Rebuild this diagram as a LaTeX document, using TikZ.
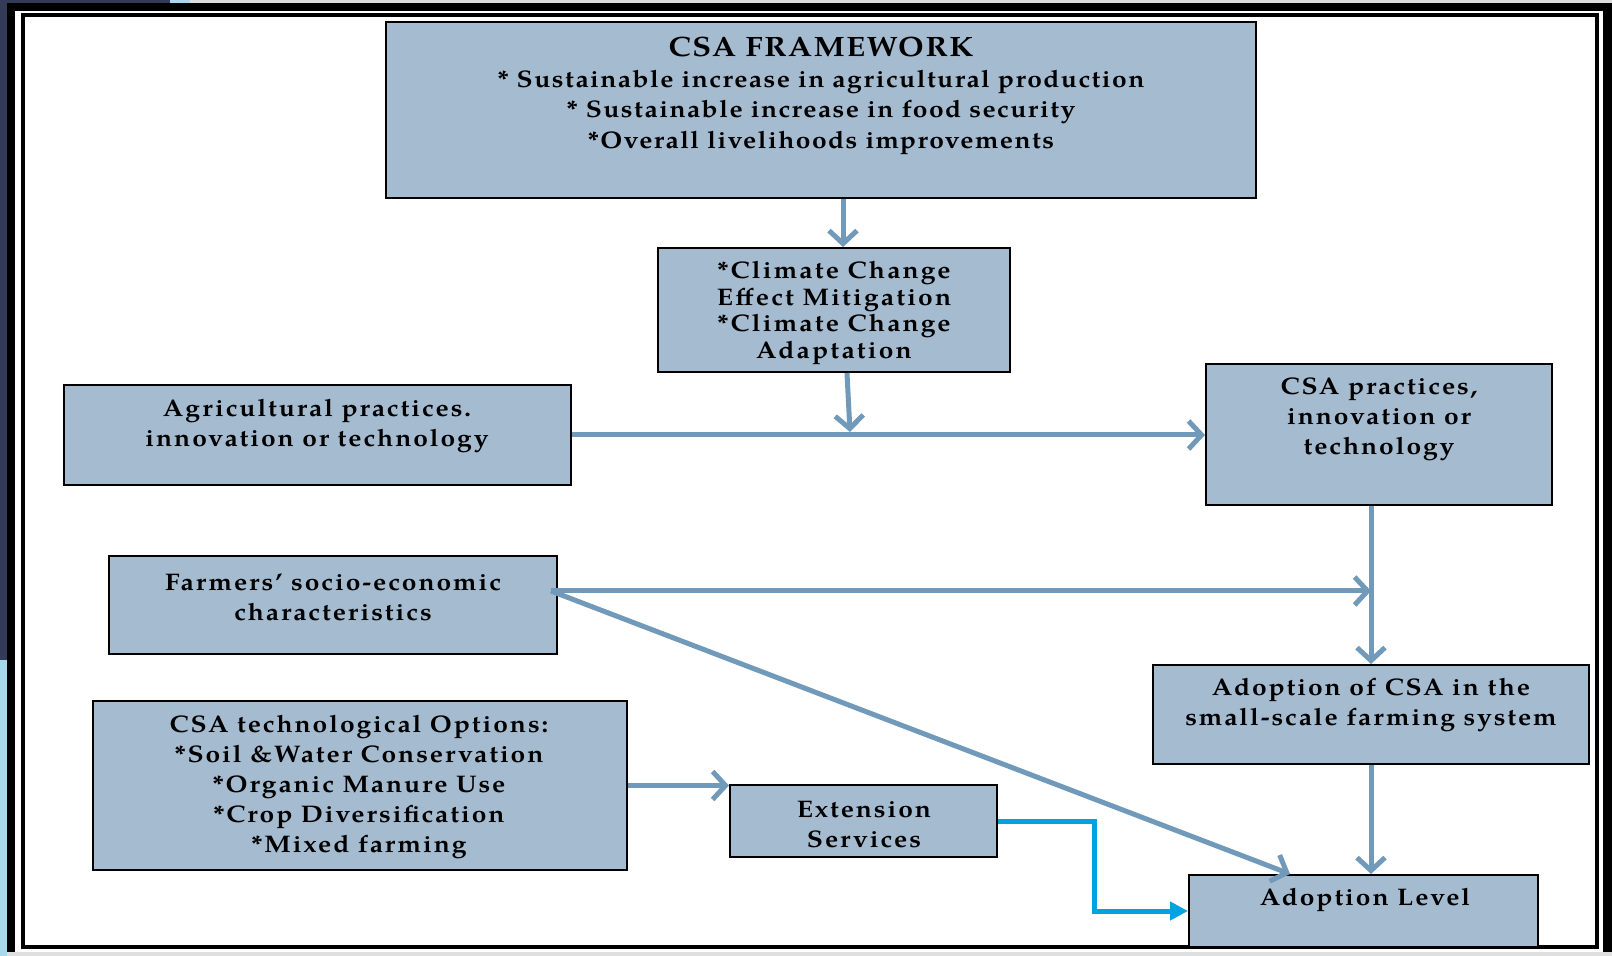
\documentclass[tikz,border=0pt]{standalone}
\usepackage{fontspec}
\setmainfont{TeX Gyre Pagella}
\usetikzlibrary{arrows.meta}

\definecolor{boxfill}{HTML}{A5BBD0}
\definecolor{flowblue}{HTML}{7199BA}
\definecolor{brightblue}{HTML}{00A3E0}
\definecolor{edgenavy}{HTML}{343B56}
\definecolor{edgesky}{HTML}{A8D8EE}

\tikzset{
  box/.style={rectangle, draw=black, line width=1pt, fill=boxfill, inner sep=0pt},
  txt/.style={align=center, inner sep=0pt,
    font=\bfseries\addfontfeatures{LetterSpace=8,FakeStretch=1.1}\fontsize{12}{15}\selectfont},
  toptxt/.style={align=center, inner sep=0pt,
    font=\bfseries\addfontfeatures{LetterSpace=6,FakeStretch=1.1}\fontsize{12}{15.25}\selectfont},
  flow/.style={draw=flowblue, line width=2.5pt, -{Straight Barb[length=6.5pt,width=14pt]}},
  elbow/.style={draw=brightblue, line width=2.5pt, -{Triangle[length=9pt,width=9pt]}},
}

\begin{document}
\begin{tikzpicture}[x=0.5pt,y=-0.5pt]
  \useasboundingbox (0,0) rectangle (1612,956);
  % page edge and frame
  \fill[gray!25] (0,0) rectangle (1612,956);
  \fill[edgenavy] (0,0) rectangle (7,956);
  \fill[edgesky] (0,660) rectangle (7,956);
  \fill[edgenavy] (0,0) rectangle (170,3);
  \fill[edgesky] (170,0) rectangle (190,3);
  \fill[black] (7,3) rectangle (1612,952);
  \fill[white] (15,11) rectangle (1603,952);
  \draw[line width=2pt] (23,15.5) rectangle (1597,947);

  % boxes
  \node[box, minimum width=435pt, minimum height=88pt] (frame) at (821,110.5) {};
  \node[box, minimum width=175.75pt, minimum height=62pt] (clim) at (834,310) {};
  \node[box, minimum width=253.5pt, minimum height=49.75pt] (agri) at (317,435) {};
  \node[box, minimum width=173pt, minimum height=70.5pt] (prac) at (1379,434.5) {};
  \node[box, minimum width=224pt, minimum height=49pt] (farm) at (333,605) {};
  \node[box, minimum width=218pt, minimum height=49.5pt] (adopt) at (1371,714.5) {};
  \node[box, minimum width=267.25pt, minimum height=84.5pt] (tech) at (359.75,785.5) {};
  \node[box, minimum width=133.5pt, minimum height=36pt] (ext) at (863.5,821) {};
  \node[box, minimum width=174.5pt, minimum height=36pt] (level) at (1363.5,911) {};

  % texts
  \node[toptxt] (frametxt) at (821,96) {{\fontsize{14}{15.25}\selectfont CSA FRAMEWORK}\\
    * Sustainable increase in agricultural production\\
    * Sustainable increase in food security\\
    *Overall livelihoods improvements};
  \node[txt, font=\bfseries\addfontfeatures{LetterSpace=9,FakeStretch=1.1}\fontsize{12}{13.2}\selectfont] (climtxt) at (834,313)
    {*Climate Change\\Effect Mitigation\\*Climate Change\\Adaptation};
  \node[txt] (agritxt) at (317,426) {Agricultural practices.\\innovation or technology};
  \node[txt] (practxt) at (1379,419) {CSA practices,\\innovation or\\technology};
  \node[txt] (farmtxt) at (333,597) {Farmers’ socio-economic\\characteristics};
  \node[txt] (adopttxt) at (1371,705) {Adoption of CSA in the\\small-scale farming system};
  \node[txt] (techtxt) at (359,787) {CSA technological Options:\\*Soil \&Water Conservation\\
    *Organic Manure Use\\*Crop Diversification\\*Mixed farming};
  \node[txt] (exttxt) at (864,825) {Extension\\Services};
  \node[txt] (leveltxt) at (1365,900) {Adoption Level};

  % connectors
  \coordinate (mid) at (850,432);
  \coordinate (fstart) at ([xshift=-3.5pt,yshift=7pt]farm.east);
  \draw[flow] ([xshift=11pt]frame.south) -- ([xshift=4.5pt]clim.north);
  \draw[flow] ([xshift=6.5pt]clim.south) -- (mid);
  \draw[flow] (agri.east) -- (agri.east -| prac.west);
  \draw[flow] (prac.south -| adopt.north) -- (adopt.north);
  \draw[flow] (fstart) -- (fstart -| adopt.north);
  \draw[flow] (fstart) -- ([xshift=-36.75pt]level.north);
  \draw[flow] (adopt.south) -- (adopt.south |- level.north);
  \draw[flow] (tech.east) -- (tech.east -| ext.west);
  \draw[elbow] (ext.east) -- ++(48pt,0) |- (level.west);
\end{tikzpicture}
\end{document}
